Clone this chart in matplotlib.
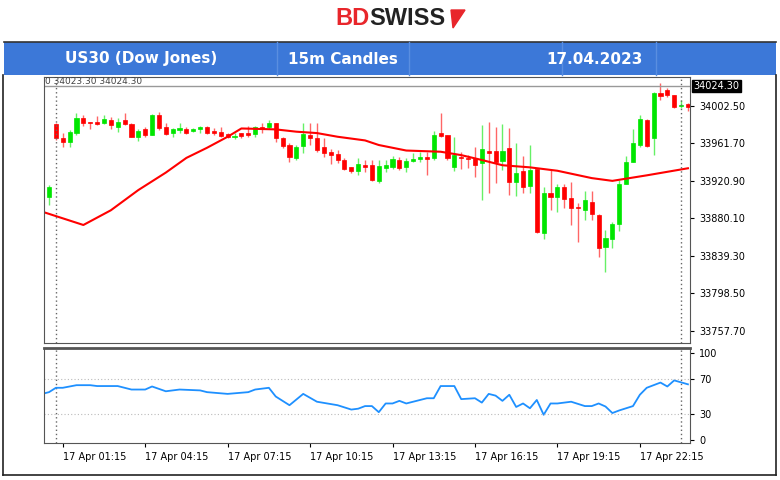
"""US30 15m candles with MA and RSI, BDSwiss style."""
import numpy as np
import matplotlib
matplotlib.use('Agg')
import matplotlib.pyplot as plt
from matplotlib.patches import Rectangle, Polygon

# OHLC per 15m candle
opens = [33903.7, 33982.9, 33967.3, 33963.6, 33972.7, 33989.8, 33985.4, 33985.4, 33983.6, 33987.2,
         33980.0, 33987.2, 33982.9, 33969.1, 33977.1, 33970.9, 33992.7, 33979.2, 33972.7, 33976.3,
         33977.1, 33975.3, 33977.1, 33980.0, 33975.6, 33974.5, 33972.0, 33968.4, 33972.7, 33972.7,
         33972.0, 33980.0, 33979.2, 33983.6, 33967.3, 33960.0, 33945.5, 33958.9, 33970.9, 33967.3,
         33958.2, 33952.8, 33949.9, 33943.7, 33935.7, 33931.7, 33938.2, 33938.2, 33921.2, 33934.6,
         33936.4, 33943.7, 33936.4, 33943.0, 33944.4, 33946.6, 33945.5, 33972.7, 33970.9, 33936.4,
         33947.3, 33945.5, 33945.5, 33940.0, 33953.8, 33953.8, 33943.0, 33956.4, 33920.1, 33932.1,
         33915.4, 33933.5, 33863.8, 33908.1, 33903.7, 33914.6, 33902.0, 33892.9, 33889.2, 33898.3,
         33883.8, 33848.6, 33857.3, 33874.0, 33917.5, 33941.9, 33960.0, 33987.2, 33967.3, 34017.0,
         34019.9, 34014.5, 34002.5, 34004.7]
closes = [33914.6, 33967.3, 33963.6, 33974.5, 33989.8, 33983.6, 33983.6, 33982.9, 33988.0, 33981.8,
          33985.4, 33982.9, 33968.4, 33975.6, 33970.9, 33992.7, 33978.2, 33972.0, 33977.1, 33978.2,
          33973.4, 33977.1, 33980.0, 33973.4, 33972.7, 33970.2, 33968.4, 33969.8, 33969.8, 33970.9,
          33979.2, 33977.1, 33983.6, 33967.3, 33958.9, 33947.3, 33958.2, 33972.0, 33967.3, 33954.6,
          33951.0, 33949.1, 33943.7, 33933.9, 33931.7, 33939.3, 33936.4, 33921.9, 33937.1, 33938.2,
          33944.4, 33934.6, 33943.0, 33944.4, 33946.6, 33945.1, 33970.9, 33969.8, 33945.5, 33949.1,
          33945.5, 33944.4, 33938.2, 33955.3, 33951.7, 33941.9, 33953.8, 33920.1, 33929.2, 33913.9,
          33932.8, 33865.6, 33907.4, 33903.0, 33913.9, 33900.9, 33891.0, 33891.0, 33900.1, 33884.9,
          33847.5, 33858.4, 33874.0, 33917.5, 33941.9, 33961.8, 33988.0, 33958.9, 34017.0, 34013.4,
          34014.5, 34001.0, 34003.6, 34001.0]
highs = [33916.5, 33983.6, 33972.7, 33976.3, 33994.5, 33992.7, 33985.4, 33991.6, 33992.7, 33990.1,
         33989.0, 33994.5, 33983.6, 33977.1, 33979.2, 33993.8, 33996.3, 33983.6, 33978.2, 33983.6,
         33979.2, 33978.2, 33980.7, 33980.7, 33978.2, 33980.0, 33972.7, 33972.7, 33973.4, 33980.7,
         33980.7, 33983.6, 33987.2, 33984.3, 33969.1, 33961.8, 33960.0, 33984.3, 33983.6, 33983.6,
         33967.3, 33955.3, 33954.6, 33945.5, 33936.4, 33945.5, 33943.7, 33943.7, 33943.7, 33943.7,
         33948.0, 33947.3, 33945.5, 33951.7, 33952.8, 33952.8, 33975.6, 33994.5, 33970.9, 33968.4,
         33952.8, 33949.1, 33958.2, 33981.8, 33985.4, 33980.0, 33982.9, 33978.2, 33961.8, 33948.0,
         33960.0, 33933.5, 33914.6, 33932.8, 33917.5, 33917.5, 33920.1, 33896.5, 33910.3, 33910.3,
         33884.9, 33867.5, 33876.5, 33921.9, 33948.0, 33977.1, 33992.7, 33988.0, 34017.7, 34027.2,
         34021.7, 34014.5, 34009.0, 34006.2]
lows = [33894.7, 33965.5, 33958.2, 33958.2, 33970.9, 33980.7, 33977.1, 33981.8, 33982.9, 33977.4,
        33974.5, 33981.8, 33968.4, 33964.7, 33968.4, 33970.9, 33976.3, 33970.9, 33969.1, 33973.4,
        33972.0, 33973.8, 33972.7, 33972.0, 33970.9, 33969.1, 33967.3, 33966.2, 33967.3, 33969.1,
        33969.1, 33972.7, 33977.1, 33963.6, 33956.4, 33941.9, 33943.7, 33951.0, 33960.0, 33952.8,
        33947.3, 33939.3, 33940.0, 33932.8, 33929.9, 33927.3, 33931.0, 33921.2, 33919.0, 33931.0,
        33933.5, 33932.8, 33931.0, 33941.9, 33941.9, 33927.3, 33943.7, 33969.1, 33943.7, 33932.1,
        33933.5, 33934.6, 33925.5, 33900.1, 33907.4, 33918.3, 33932.8, 33905.6, 33904.5, 33908.1,
        33907.4, 33863.8, 33857.3, 33889.2, 33887.4, 33891.0, 33872.9, 33854.7, 33878.3, 33878.3,
        33837.7, 33822.1, 33847.5, 33866.7, 33917.5, 33941.9, 33958.2, 33958.2, 33949.1, 34009.0,
        34012.7, 33999.9, 33999.9, 33997.2]

# moving average, read at selected candles
ma_idx = [-1, 5, 9, 13, 17, 20, 23, 26, 28, 33, 36, 39, 42, 46, 48, 52, 57, 60, 63, 66, 70,
          74, 79, 82, 87, 93]
ma_val = [33887.5, 33873, 33889, 33911, 33930, 33946, 33957, 33969, 33978, 33977, 33974.5, 33973,
          33969, 33965, 33960, 33954, 33952.7, 33949, 33943.7, 33938, 33935.7, 33932, 33924, 33921,
          33927, 33934.7]

# RSI
rsi_idx = [-1, 0, 1, 2, 4, 6, 7, 10, 12, 14, 15, 17, 19, 22, 23, 26, 29, 30, 32, 33, 35, 37,
           39, 42, 44, 45, 46, 47, 48, 49, 50, 51, 52, 54, 55, 56, 57, 59, 60, 62, 63, 64, 65,
           66, 67, 68, 69, 70, 71, 72, 73, 74, 76, 78, 79, 80, 81, 82, 83, 85, 86, 87, 89, 90,
           91, 93]
rsi_val = [53, 55, 60, 60, 63, 63, 62, 62, 58, 58, 61.5, 56, 58, 57, 55, 53, 55, 58, 60, 50, 40,
           53, 44, 40, 35, 36, 39, 39, 32, 42, 42, 45, 42, 46, 48, 48, 62, 62, 47, 48, 43, 53, 51,
           45, 52, 38, 42, 36.5, 46, 29, 42, 42, 44, 39, 39, 42, 38.5, 31, 34, 39, 52, 60, 66,
           61.5, 68.5, 64]

price_ticks = [34002.5, 33961.7, 33920.9, 33880.1, 33839.3, 33798.5, 33757.7]
time_idx = [2, 14, 26, 38, 50, 62, 74, 86]
time_labels = ['17 Apr 01:15', '17 Apr 04:15', '17 Apr 07:15', '17 Apr 10:15',
               '17 Apr 13:15', '17 Apr 16:15', '17 Apr 19:15', '17 Apr 22:15']
last_price = 34024.30

GREEN = '#00e600'
RED = '#ff0000'
BLUE = '#1e90ff'

fig = plt.figure(figsize=(7.8, 4.8), dpi=100)

# logo
fig.text(0.474, 0.962, 'BD', color='#e8262b', fontsize=17, fontweight='bold',
         ha='right', va='center', family='Liberation Sans')
fig.text(0.474, 0.962, 'SWISS', color='#222222', fontsize=17, fontweight='bold',
         ha='left', va='center', family='Liberation Sans')
fig.patches.append(Polygon([[451 / 780, 1 - 10 / 480], [465 / 780, 1 - 10 / 480],
                            [453 / 780, 1 - 28 / 480]], closed=True,
                           transform=fig.transFigure, color='#e8262b'))

# header band
fig.patches.append(Rectangle((0.005, 1 - 75 / 480), 0.99, 33 / 480, transform=fig.transFigure,
                             facecolor='#3c78d8', edgecolor='none'))
fig.add_artist(plt.Line2D([0.005, 0.995], [1 - 42 / 480] * 2, color='#333333', lw=1.2))
for xd in [277, 409, 562, 656]:
    fig.add_artist(plt.Line2D([xd / 780] * 2, [1 - 75 / 480, 1 - 42 / 480], color='#5a8ee0', lw=1))
for xc, txt in [(141, 'US30 (Dow Jones)'), (343, '15m Candles'), (595, '17.04.2023')]:
    fig.text(xc / 780, 1 - 59 / 480, txt, color='white', fontsize=11, fontweight='bold',
             ha='center', va='center')
# outer frame
fig.add_artist(plt.Line2D([0.004, 0.004], [0.01, 1 - 75 / 480], color='#222222', lw=1.2))
fig.add_artist(plt.Line2D([0.995, 0.995], [0.01, 1 - 75 / 480], color='#222222', lw=1.2))
fig.add_artist(plt.Line2D([0.004, 0.995], [0.01, 0.01], color='#222222', lw=1.2))

ax = fig.add_axes([44 / 780, 1 - 343 / 480, 646 / 780, 266 / 480])
ax2 = fig.add_axes([44 / 780, 1 - 443 / 480, 646 / 780, 95 / 480])

idx = np.arange(len(opens))
for i in idx:
    o, c, h, l = opens[i], closes[i], highs[i], lows[i]
    col = GREEN if c >= o else RED
    ax.vlines(i, l, h, color=col, lw=1, alpha=0.6)
    bot, top = min(o, c), max(o, c)
    ax.add_patch(Rectangle((i - 0.3, bot), 0.6, max(top - bot, 0.8), facecolor=col,
                           edgecolor=col, lw=0.5))
ax.plot(ma_idx, ma_val, color=RED, lw=1.5)
ax.axhline(last_price, color='#999999', lw=1)
for xv in [1, 92]:
    ax.axvline(xv, color='#666666', lw=1, ls=(0, (1, 2)))
    ax2.axvline(xv, color='#666666', lw=1, ls=(0, (1, 2)))

xlim = (-0.73, 93.3)
ax.set_xlim(xlim)
ax.set_ylim(33744.6, 34034)
ax.yaxis.tick_right()
ax.set_yticks(price_ticks)
ax.set_yticklabels([f'{v:.2f}' for v in price_ticks], fontsize=7)
ax.set_xticks([])
ax.tick_params(axis='y', length=3, pad=4)
ax.text(1.005, last_price, f'{last_price:.2f}', transform=ax.get_yaxis_transform(),
        fontsize=7, color='white', va='center', ha='left',
        bbox=dict(facecolor='black', edgecolor='black', pad=1))
ax.text(0.002, 1.0, '0 34023.30 34024.30', transform=ax.transAxes, fontsize=6.5,
        color='#444444', va='top', ha='left')
for sp in ax.spines.values():
    sp.set_color('#555555')
    sp.set_linewidth(0.8)

ax2.plot(rsi_idx, rsi_val, color=BLUE, lw=1.3)
for lvl in [70, 30]:
    ax2.axhline(lvl, color='#bbbbbb', lw=0.8, ls=(0, (1, 2)))
ax2.set_xlim(xlim)
ax2.set_ylim(-3.4, 105.7)
ax2.yaxis.tick_right()
ax2.set_yticks([100, 70, 30, 0])
ax2.tick_params(axis='y', labelsize=7, length=3)
ax2.set_xticks(time_idx)
ax2.set_xticklabels(time_labels, fontsize=7, ha='left')
ax2.tick_params(axis='x', length=3)
for sp in ax2.spines.values():
    sp.set_color('#555555')
    sp.set_linewidth(0.8)
ax2.spines['top'].set_linewidth(2)

fig.savefig('out.png', dpi=100)
